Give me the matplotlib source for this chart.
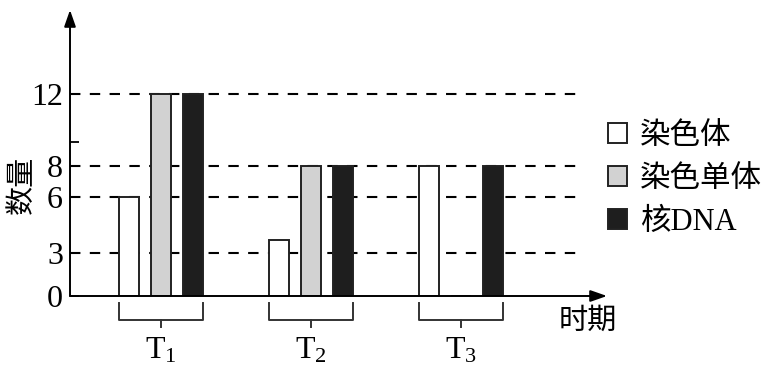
import numpy as np
import matplotlib.pyplot as plt
from matplotlib.transforms import blended_transform_factory

plt.rcParams['font.family'] = ['Liberation Serif', 'Noto Sans CJK SC']
plt.rcParams['mathtext.fontset'] = 'custom'
plt.rcParams['mathtext.rm'] = 'Liberation Serif'
plt.rcParams['mathtext.it'] = 'Liberation Serif'

# data
periods = [r'$\mathrm{T}_1$', r'$\mathrm{T}_2$', r'$\mathrm{T}_3$']
series = ['染色体', '染色单体', '核DNA']
chromosome = [6, 3.7, 8]
chromatid = [12, 8, 0]
nuclear_dna = [12, 8, 8]
y_ticks = [0, 3, 6, 8, 10, 12]
y_labels = ['0', '3', '6', '8', '', '12']
guide_lines = [3, 6, 8, 12]

# the drawing's y axis is schematic, not linear
knot_vals = [0, 3, 6, 8, 10, 12, 14]
knot_pos = [0, 43, 99, 130, 154, 202, 286]

def fwd(v):
    return np.interp(v, knot_vals, knot_pos)

def inv(p):
    return np.interp(p, knot_pos, knot_vals)

fig = plt.figure(figsize=(7.72, 3.73), dpi=100)
ax = fig.add_axes([70 / 772, 77 / 373, 537 / 772, 286 / 373])
ax.set_yscale('function', functions=(fwd, inv))

x = np.arange(len(periods))
w = 0.133
off = 0.213
colors = ['white', '#d2d2d2', '#1e1e1e']
edge = '#222222'
for i, (vals, c) in enumerate(zip([chromosome, chromatid, nuclear_dna], colors)):
    ax.bar(x + (i - 1) * off, vals, w, color=c, edgecolor=edge, linewidth=1.4,
           label=series[i], zorder=3)

ax.set_xlim(-0.607, 2.973)
ax.set_ylim(0, 14)

# dashed guide lines
for v in guide_lines:
    ax.plot([-0.607, 2.773], [v, v], color='black', lw=1.5,
            dashes=(5, 4.5), zorder=1)

for s in ax.spines.values():
    s.set_visible(False)
arrow = dict(arrowstyle='-|>,head_length=1.0,head_width=0.35',
             color='black', lw=1.4, shrinkA=0, shrinkB=0)
ax.annotate('', xy=(0, 1), xytext=(0, 0), xycoords='axes fraction', arrowprops=arrow)
ax.annotate('', xy=(1, 0), xytext=(0, 0), xycoords='axes fraction', arrowprops=arrow)

ax.set_yticks(y_ticks, y_labels)
ax.tick_params(axis='y', direction='in', length=6.5, width=1.3,
               labelsize=23, pad=5)
ax.set_xticks([])

# brackets under each group
tr = blended_transform_factory(ax.transData, ax.transAxes)
for xi, lab in zip(x, periods):
    l, r = xi - off - w / 2, xi + off + w / 2
    ax.plot([l, l, r, r], [-0.025, -0.085, -0.085, -0.025], color='#333333',
            lw=1.4, transform=tr, clip_on=False)
    ax.plot([xi, xi], [-0.085, -0.11], color='#333333', lw=1.4,
            transform=tr, clip_on=False)
    ax.text(xi, -0.19, lab, transform=tr, ha='center', va='center', fontsize=23)

fig.text(22 / 772, 1 - 185 / 373, '数量', rotation=90, ha='center', va='center',
         fontsize=21, family='Noto Sans CJK SC')
fig.text(588 / 772, 1 - 321 / 373, '时期', ha='center', va='center',
         fontsize=21, family='Noto Sans CJK SC')

ax.legend(loc='upper left', bbox_to_anchor=(608 / 772, 1 - 122 / 373),
          bbox_transform=fig.transFigure, frameon=False, fontsize=22,
          handlelength=0.62, handleheight=0.62, handletextpad=0.43,
          labelspacing=0.45, borderpad=0, borderaxespad=0)

fig.savefig('out.png', dpi=100)
